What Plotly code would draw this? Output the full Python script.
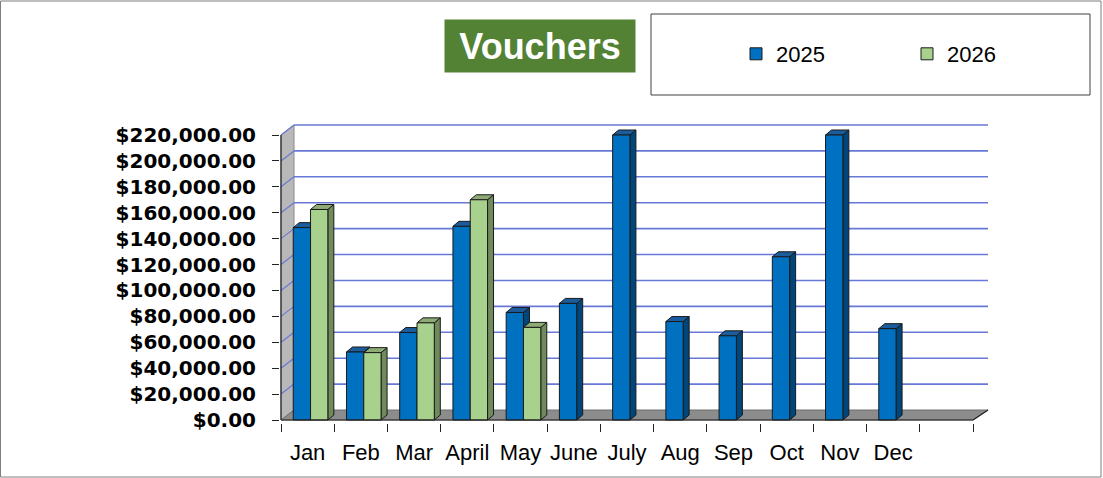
import plotly.graph_objects as go

# ---------------- data ----------------
months = ["Jan", "Feb", "Mar", "April", "May", "June", "July", "Aug", "Sep", "Oct", "Nov", "Dec", " "]
sales_2025 = [148500, 52500, 67500, 149500, 83000, 90000, 220000, 76000, 65000, 126000, 220000, 70500, None]
sales_2026 = [162500, 52000, 75000, 170000, 71500, None, None, None, None, None, None, None, None]
series_names = ["2025", "2026"]
y_ticks = [0, 20000, 40000, 60000, 80000, 100000, 120000, 140000, 160000, 180000, 200000, 220000]
title_text = "Vouchers"

# ---------------- layout constants (pixels) ----------------
W, H = 1103, 478
AX_L, AX_R = 281, 973          # front category axis extent
Y0_PX, YTOP_PX = 420, 135      # front value axis: 0 and top tick
PA_L, PA_R, PA_T, PA_B = 280, 990, 121, 423   # plot area
WALL_DX, WALL_DY = 13, 10      # 3D depth of wall/floor
FACE_DX, FACE_DY = 6, 5        # 3D depth of bars

n_cat = len(months)
slot = (AX_R - AX_L) / n_cat
ytop = y_ticks[-1]
sy = (Y0_PX - YTOP_PX) / ytop


def xpx(p):
    return -0.5 + (p - AX_L) / slot


def ypx(q):
    return (Y0_PX - q) / sy


def xpaper(p):
    return (p - PA_L) / (PA_R - PA_L)


def ypaper(q):
    return (PA_B - q) / (PA_B - PA_T)


wdx = WALL_DX / slot
wdy = WALL_DY / sy
fdx = FACE_DX / slot
fdy = FACE_DY / sy
x_left = -0.5
x_end = n_cat - 0.5
x_right = xpx(PA_R - 2)

BW = 0.325
offsets = [-0.27, 0.055]
front_cols = ["#0070C0", "#A9D18E"]
side_cols = ["#00467a", "#6f8a5c"]
top_cols = ["#1b5c9c", "#8eab76"]
edge = "#1a1a1a"
grid_col = "#6878d6"

fig = go.Figure()
for name, vals, off, col in zip(series_names, [sales_2025, sales_2026], offsets, front_cols):
    fig.add_trace(go.Bar(
        x=months, y=vals, name=name, width=BW, offset=off,
        marker=dict(color=col, line=dict(color=edge, width=1)),
    ))

shapes = []
# left wall
shapes.append(dict(type="path", xref="x", yref="y", layer="below",
                   path=f"M{x_left},0 L{x_left},{ytop} L{x_left + wdx},{ytop + wdy} L{x_left + wdx},{wdy} Z",
                   fillcolor="#b8b8b8", line=dict(color="#8a8a8a", width=1)))
# floor
shapes.append(dict(type="path", xref="x", yref="y", layer="below",
                   path=f"M{x_left},0 L{x_left + wdx},{wdy} L{x_right},{wdy} L{x_end},0 Z",
                   fillcolor="#8c8c8c", line=dict(color="#6e6e6e", width=1)))
# back-wall gridlines + wall diagonals
for t in y_ticks[1:]:
    shapes.append(dict(type="line", xref="x", yref="y", layer="below",
                       x0=x_left + wdx, x1=x_right, y0=t + wdy, y1=t + wdy,
                       line=dict(color=grid_col, width=1.6)))
    shapes.append(dict(type="line", xref="x", yref="y", layer="below",
                       x0=x_left, x1=x_left + wdx, y0=t, y1=t + wdy,
                       line=dict(color=grid_col, width=1.2)))
# bar 3D faces
for vals, off, sc, tc in zip([sales_2025, sales_2026], offsets, side_cols, top_cols):
    for i, v in enumerate(vals):
        if v is None:
            continue
        xl = i + off
        xr = xl + BW
        shapes.append(dict(type="path", xref="x", yref="y", layer="below",
                           path=f"M{xr},0 L{xr},{v} L{xr + fdx},{v + fdy} L{xr + fdx},{fdy} Z",
                           fillcolor=sc, line=dict(color=edge, width=1)))
        shapes.append(dict(type="path", xref="x", yref="y", layer="below",
                           path=f"M{xl},{v} L{xl + fdx},{v + fdy} L{xr + fdx},{v + fdy} L{xr},{v} Z",
                           fillcolor=tc, line=dict(color=edge, width=1)))
# axis lines
shapes.append(dict(type="line", xref="x", yref="y", x0=x_left, x1=x_left, y0=0, y1=ytop,
                   line=dict(color="#222", width=1.2)))
shapes.append(dict(type="line", xref="x", yref="y", x0=x_left, x1=x_end, y0=0, y1=0,
                   line=dict(color="#222", width=1.2)))
shapes.append(dict(type="line", xref="x", yref="y", x0=x_end, x1=x_right, y0=0, y1=wdy,
                   line=dict(color="#222", width=1.2)))
# legend box
shapes.append(dict(type="rect", xref="paper", yref="paper",
                   x0=xpaper(651), x1=xpaper(1090), y0=ypaper(95), y1=ypaper(14),
                   line=dict(color="#404040", width=1), fillcolor="rgba(0,0,0,0)"))
# outer chart border
shapes.append(dict(type="rect", xref="paper", yref="paper",
                   x0=xpaper(0.5), x1=xpaper(1101), y0=ypaper(477), y1=ypaper(1),
                   line=dict(color="#7f7f7f", width=1), fillcolor="rgba(0,0,0,0)"))

fig.update_layout(
    width=W, height=H,
    margin=dict(l=PA_L, r=W - PA_R, t=PA_T, b=H - PA_B, pad=0, autoexpand=False),
    paper_bgcolor="white", plot_bgcolor="rgba(0,0,0,0)",
    barmode="overlay",
    shapes=shapes,
    showlegend=True,
    legend=dict(orientation="h", x=xpaper(736), xanchor="left", y=ypaper(54), yanchor="middle",
                font=dict(family="Liberation Sans, Arial", size=22, color="black"),
                entrywidth=126, entrywidthmode="pixels", bgcolor="rgba(0,0,0,0)", borderwidth=0),
    xaxis=dict(type="category", categoryorder="array", categoryarray=months, automargin=False,
               range=[xpx(PA_L), xpx(PA_R)], showgrid=False, zeroline=False, showline=False,
               ticks="outside", tickson="boundaries", ticklen=8, tickcolor="#222", tickwidth=1,
               tickangle=0, ticklabelstandoff=14,
               tickfont=dict(family="Liberation Sans, Arial", size=22, color="black")),
    yaxis=dict(range=[ypx(PA_B), ypx(PA_T)], tickvals=y_ticks, tickformat="$,.2f", automargin=False,
               showgrid=False, zeroline=False, showline=False,
               ticks="outside", ticklen=7, tickcolor="#222", tickwidth=1, ticklabelstandoff=12,
               tickfont=dict(family="DejaVu Sans", size=20, color="black", weight="bold")),
    annotations=[dict(text=title_text, xref="paper", yref="paper",
                      x=xpaper(540), y=ypaper(46), xanchor="center", yanchor="middle",
                      showarrow=False, width=190, height=52, borderpad=0,
                      bgcolor="#548235",
                      font=dict(family="Liberation Sans, Arial", size=36, color="white", weight="bold"))],
)

fig.write_html("out.html",
               config={"displayModeBar": False},
               post_script="document.body.style.margin='0';document.body.style.padding='0';"
                           "document.body.style.overflow='hidden';")
